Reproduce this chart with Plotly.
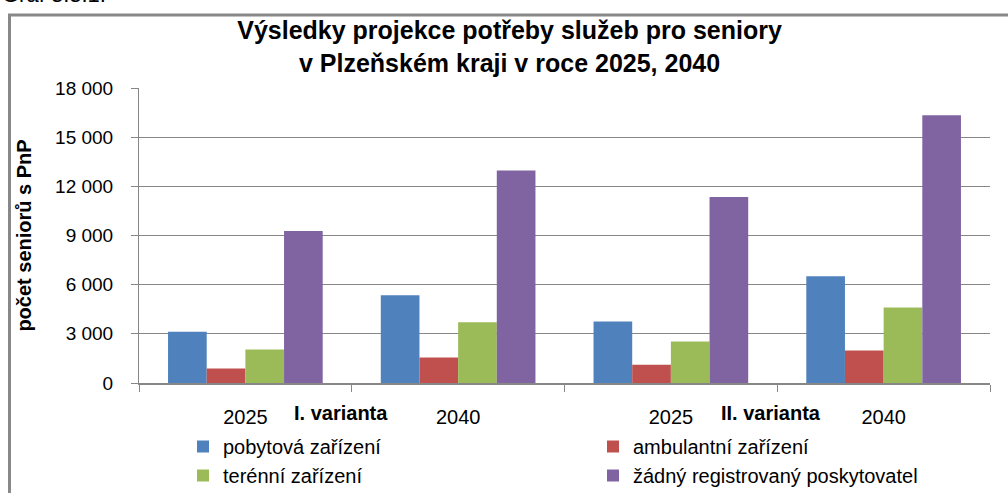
import plotly.graph_objects as go

categories = ["I-2025", "I-2040", "II-2025", "II-2040"]
year_labels = ["2025", "2040", "2025", "2040"]
variant_labels = ["I. varianta", "II. varianta"]

series_names = ["pobytová zařízení", "ambulantní zařízení", "terénní zařízení",
                "žádný registrovaný poskytovatel"]
pobytova = [3120, 5350, 3760, 6510]
ambulantni = [880, 1550, 1120, 1980]
terenni = [2050, 3700, 2530, 4610]
zadny = [9270, 12960, 11350, 16330]
colors = ["#4F81BD", "#C0504D", "#9BBB59", "#8064A2"]

W, H = 1008, 493
L, R, T, B = 139, 18, 88, 110
pw = W - L - R
ph = H - T - B


def px_x(p):
    return (p - L) / pw


def px_y(p):
    return (H - B - p) / ph


FONT = "Liberation Sans, Arial, sans-serif"

fig = go.Figure()
for name, vals, col in zip(series_names, [pobytova, ambulantni, terenni, zadny], colors):
    fig.add_trace(go.Bar(x=categories, y=vals, name=name, marker_color=col,
                         marker_line_width=0))

fig.update_layout(
    width=W, height=H,
    margin=dict(l=L, r=R, t=T, b=B, autoexpand=False),
    paper_bgcolor="white", plot_bgcolor="white",
    barmode="group", bargap=0.273, bargroupgap=0,
    separators=", ",
    font=dict(family=FONT, color="black", size=17),
    title=dict(text="<b>Výsledky projekce potřeby služeb pro seniory<br>v Plzeňském kraji v roce 2025, 2040</b>",
               x=0.5055, xref="container", xanchor="center",
               y=1 - 39 / H, yref="container", yanchor="middle",
               font=dict(size=25, family=FONT)),
    legend=dict(orientation="h", x=px_x(183), xanchor="left",
                y=px_y(427), yanchor="top",
                entrywidth=365, entrywidthmode="pixels",
                font=dict(size=20, family=FONT), itemclick=False,
                traceorder="normal", bgcolor="rgba(0,0,0,0)"),
    showlegend=True,
)

fig.update_xaxes(
    type="category", tickvals=categories, ticktext=year_labels,
    tickson="boundaries", ticks="outside", ticklen=7, tickcolor="#878787",
    showline=True, linecolor="#878787", linewidth=2, showgrid=False,
    tickfont=dict(size=20), ticklabelstandoff=15, automargin=False,
)
fig.update_yaxes(
    range=[0, 18000], dtick=3000, tickformat=",d",
    showgrid=True, gridcolor="#878787", gridwidth=1,
    showline=True, linecolor="#878787", linewidth=1,
    ticks="outside", ticklen=7, tickcolor="#878787",
    tickfont=dict(size=19), ticklabelstandoff=14,
    zeroline=False, automargin=False,
    title=dict(text="<b>počet seniorů s PnP</b>", font=dict(size=20), standoff=18),
)

# variant labels
for xpos, txt in zip([0.45, 2.47], variant_labels):
    fig.add_annotation(x=xpos, y=px_y(413), xref="x", yref="paper",
                       text="<b>" + txt + "</b>", showarrow=False,
                       xanchor="center", yanchor="middle",
                       font=dict(size=20, family=FONT))

# partially visible caption at top
fig.add_annotation(x=px_x(0), y=px_y(9), xref="paper", yref="paper",
                   text="Graf 3.3.1.", showarrow=False, xanchor="left", yanchor="bottom",
                   font=dict(size=22, family=FONT))

# outer frame
fig.add_shape(type="rect", xref="paper", yref="paper",
              x0=px_x(9.5), x1=px_x(1015), y0=px_y(505), y1=px_y(15),
              line=dict(color="#888888", width=3), fillcolor="rgba(0,0,0,0)", layer="below")

fig.write_html("out.html", config={"displayModeBar": False},
               post_script="document.body.style.margin='0';")
